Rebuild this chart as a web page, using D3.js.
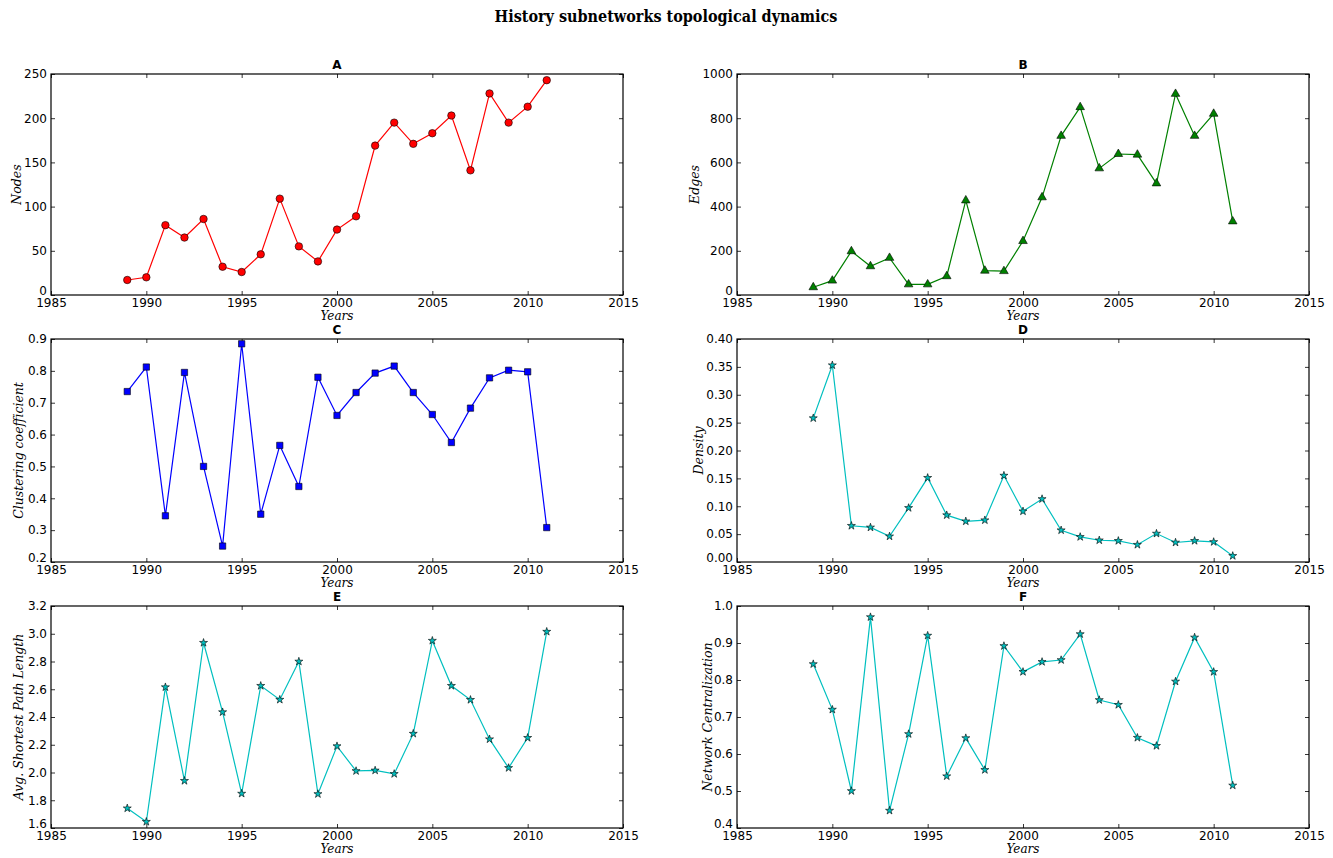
<!DOCTYPE html>
<html>
<head>
<meta charset="utf-8">
<script src="https://cdn.jsdelivr.net/npm/d3@7"></script>
<style>
  html, body { margin: 0; padding: 0; background: #fff; }
  svg { display: block; }
  .tick text { font-family: "DejaVu Sans", sans-serif; font-size: 12px; fill: #000; }
</style>
</head>
<body>
<svg id="chart" width="1333" height="858"></svg>
<script>
// Yearly topological measures of the History subnetworks
const years = [1989, 1990, 1991, 1992, 1993, 1994, 1995, 1996, 1997, 1998, 1999, 2000,
               2001, 2002, 2003, 2004, 2005, 2006, 2007, 2008, 2009, 2010, 2011];

const nodes = [17, 20, 79, 65, 86, 32, 26, 46, 109, 55, 38, 74,
               89, 169, 195, 171, 183, 203, 141, 228, 195, 213, 243];

const edges = [35, 65, 198, 130, 168, 48, 48, 85, 428, 110, 108, 244,
               442, 720, 850, 573, 638, 635, 505, 910, 720, 820, 333];

const clustering = [0.735, 0.812, 0.345, 0.795, 0.500, 0.250, 0.885, 0.350, 0.566, 0.437, 0.780, 0.660,
                    0.732, 0.793, 0.815, 0.732, 0.663, 0.575, 0.683, 0.778, 0.802, 0.797, 0.308];

const density = [0.258, 0.353, 0.065, 0.062, 0.046, 0.097, 0.151, 0.084, 0.073, 0.075, 0.155, 0.091,
                 0.113, 0.057, 0.045, 0.039, 0.038, 0.031, 0.051, 0.035, 0.038, 0.036, 0.011];

const pathLength = [1.742, 1.645, 2.615, 1.940, 2.935, 2.435, 1.848, 2.625, 2.525, 2.800, 1.845, 2.190,
                    2.011, 2.015, 1.990, 2.280, 2.950, 2.625, 2.524, 2.240, 2.033, 2.250, 3.015];

const centralization = [0.843, 0.720, 0.500, 0.970, 0.447, 0.654, 0.920, 0.540, 0.643, 0.557, 0.892, 0.822,
                        0.849, 0.854, 0.924, 0.746, 0.733, 0.644, 0.622, 0.796, 0.915, 0.822, 0.515];

const xTicks = [1985, 1990, 1995, 2000, 2005, 2010, 2015];
const ticksA = [0, 50, 100, 150, 200, 250];
const ticksB = [0, 200, 400, 600, 800, 1000];
const ticksC = [0.2, 0.3, 0.4, 0.5, 0.6, 0.7, 0.8, 0.9];
const ticksD = [0.00, 0.05, 0.10, 0.15, 0.20, 0.25, 0.30, 0.35, 0.40];
const ticksE = [1.6, 1.8, 2.0, 2.2, 2.4, 2.6, 2.8, 3.0, 3.2];
const ticksF = [0.4, 0.5, 0.6, 0.7, 0.8, 0.9, 1.0];

const svg = d3.select("#chart");

svg.append("text")
  .attr("x", 666).attr("y", 22)
  .attr("text-anchor", "middle")
  .style("font-family", "'DejaVu Serif Condensed', 'DejaVu Serif', serif")
  .style("font-weight", "bold")
  .style("font-size", "16px")
  .text("History subnetworks topological dynamics");

const cols = [{ left: 51, right: 623 }, { left: 737, right: 1309 }];
const rows = [{ top: 74, bottom: 295 }, { top: 339, bottom: 562 }, { top: 606, bottom: 828 }];

const panels = [
  { title: "A", ylabel: "Nodes", values: nodes, ticks: ticksA, fmt: d3.format("d"),
    color: "#ff0000", symbol: d3.symbolCircle, size: 44, col: 0, row: 0, ylx: 17 },
  { title: "B", ylabel: "Edges", values: edges, ticks: ticksB, fmt: d3.format("d"),
    color: "#008000", symbol: d3.symbolTriangle, size: 32, col: 1, row: 0, ylx: 695 },
  { title: "C", ylabel: "Clustering coefficient", values: clustering, ticks: ticksC, fmt: d3.format(".1f"),
    color: "#0000ff", symbol: d3.symbolSquare, size: 40, col: 0, row: 1, ylx: 19 },
  { title: "D", ylabel: "Density", values: density, ticks: ticksD, fmt: d3.format(".2f"),
    color: "#00bfbf", symbol: d3.symbolStar, size: 20, col: 1, row: 1, ylx: 699 },
  { title: "E", ylabel: "Avg. Shortest Path Length", values: pathLength, ticks: ticksE, fmt: d3.format(".1f"),
    color: "#00bfbf", symbol: d3.symbolStar, size: 20, col: 0, row: 2, ylx: 19 },
  { title: "F", ylabel: "Network Centralization", values: centralization, ticks: ticksF, fmt: d3.format(".1f"),
    color: "#00bfbf", symbol: d3.symbolStar, size: 20, col: 1, row: 2, ylx: 708 }
];

panels.forEach(p => {
  const c = cols[p.col], r = rows[p.row];
  const x = d3.scaleLinear().domain([1985, 2015]).range([c.left, c.right]);
  const y = d3.scaleLinear().domain([p.ticks[0], p.ticks[p.ticks.length - 1]]).range([r.bottom, r.top]);
  const g = svg.append("g");

  // inward ticks on all four sides
  const tl = 4;
  g.append("g").attr("transform", `translate(0,${r.bottom})`)
    .call(d3.axisBottom(x).tickValues(xTicks).tickFormat(d3.format("d")).tickSizeInner(-tl).tickSizeOuter(0).tickPadding(3))
    .call(a => a.select(".domain").remove());
  g.append("g").attr("transform", `translate(0,${r.top})`)
    .call(d3.axisTop(x).tickValues(xTicks).tickFormat("").tickSizeInner(-tl).tickSizeOuter(0))
    .call(a => a.select(".domain").remove());
  const yl = g.append("g").attr("transform", `translate(${c.left},0)`)
    .call(d3.axisLeft(y).tickValues(p.ticks).tickFormat(p.fmt).tickSizeInner(-tl).tickSizeOuter(0).tickPadding(4))
    .call(a => a.select(".domain").remove());
  // lift the lowest value label a little so it clears the first year label
  yl.selectAll(".tick").filter(d => d === p.ticks[0]).select("text").attr("dy", "-0.05em");
  g.append("g").attr("transform", `translate(${c.right},0)`)
    .call(d3.axisRight(y).tickValues(p.ticks).tickFormat("").tickSizeInner(-tl).tickSizeOuter(0))
    .call(a => a.select(".domain").remove());

  g.selectAll(".tick line").attr("stroke", "#000").attr("stroke-width", 0.8);

  // frame
  g.append("rect")
    .attr("x", c.left).attr("y", r.top)
    .attr("width", c.right - c.left).attr("height", r.bottom - r.top)
    .attr("fill", "none").attr("stroke", "#000").attr("stroke-width", 1.2);

  const pts = years.map((yr, i) => [yr, p.values[i]]);
  g.append("path")
    .datum(pts)
    .attr("fill", "none")
    .attr("stroke", p.color)
    .attr("stroke-width", 1.2)
    .attr("d", d3.line().x(d => x(d[0])).y(d => y(d[1])));

  g.selectAll(".mk").data(pts).enter().append("path")
    .attr("transform", d => `translate(${x(d[0])},${y(d[1])})`)
    .attr("d", d3.symbol().type(p.symbol).size(p.size))
    .attr("fill", p.color)
    .attr("stroke", "#000")
    .attr("stroke-width", 0.6);

  // panel title
  g.append("text")
    .attr("x", (c.left + c.right) / 2).attr("y", r.top - 5)
    .attr("text-anchor", "middle")
    .style("font-family", "'DejaVu Sans', sans-serif")
    .style("font-weight", "bold")
    .style("font-size", "12px")
    .text(p.title);

  // axis labels
  g.append("text")
    .attr("x", (c.left + c.right) / 2).attr("y", r.bottom + 25)
    .attr("text-anchor", "middle")
    .style("font-family", "'DejaVu Serif', serif")
    .style("font-style", "italic")
    .style("font-size", "12px")
    .text("Years");

  g.append("text")
    .attr("transform", `translate(${p.ylx},${(r.top + r.bottom) / 2}) rotate(-90)`)
    .attr("text-anchor", "middle")
    .attr("dy", "0.35em")
    .style("font-family", "'DejaVu Serif', serif")
    .style("font-style", "italic")
    .style("font-size", "12.5px")
    .text(p.ylabel);
});
</script>
</body>
</html>
